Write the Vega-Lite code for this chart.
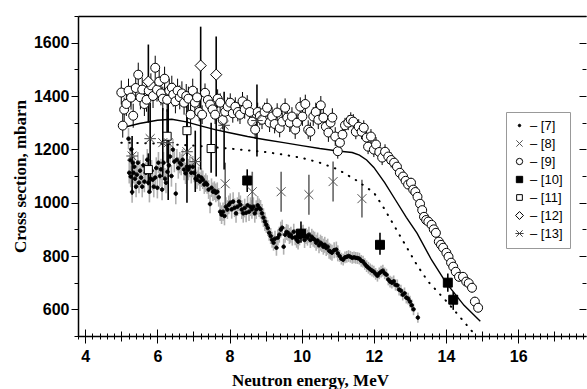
{
"$schema":"https://vega.github.io/schema/vega-lite/v6.json",
"width":508,"height":320,"autosize":"none",
"padding":{"left":78,"top":16,"right":1,"bottom":53},
"background":"white",
"resolve":{"axis":{"x":"independent","y":"independent"}},
"config":{"view":{"stroke":null},
"axis":{"domainColor":"black","domainWidth":1.5,"tickColor":"black","tickWidth":1,"labelFont":"Liberation Sans","labelFontWeight":"bold","labelFontSize":16,"labelColor":"black","titleFont":"Liberation Serif","titleFontWeight":"bold","titleFontSize":17,"titleColor":"black","grid":false,"labelOverlap":false,"labelBound":false,"labelFlush":false},
"legend":{"labelFont":"Liberation Sans","labelFontSize":13,"labelColor":"black","strokeColor":"#999","fillColor":"white","padding":7,"rowPadding":4,"symbolStrokeWidth":1,"labelOffset":4,"symbolSize":40}},
"datasets":{
"th":[
{"c":"solid","e":5.0,"v":1280},{"c":"solid","e":5.5,"v":1297},{"c":"solid","e":6.0,"v":1309},{"c":"solid","e":6.4,"v":1313},{"c":"solid","e":6.8,"v":1303},{"c":"solid","e":7.2,"v":1288},{"c":"solid","e":7.6,"v":1274},{"c":"solid","e":8.0,"v":1262},{"c":"solid","e":8.5,"v":1248},{"c":"solid","e":9.0,"v":1236},{"c":"solid","e":9.5,"v":1225},{"c":"solid","e":10.0,"v":1214},{"c":"solid","e":10.5,"v":1203},{"c":"solid","e":11.0,"v":1194},{"c":"solid","e":11.4,"v":1188},{"c":"solid","e":11.6,"v":1178},{"c":"solid","e":11.8,"v":1160},{"c":"solid","e":12.0,"v":1132},{"c":"solid","e":12.3,"v":1075},{"c":"solid","e":12.6,"v":1010},{"c":"solid","e":12.9,"v":945},{"c":"solid","e":13.2,"v":885},{"c":"solid","e":13.6,"v":785},{"c":"solid","e":14.0,"v":700},{"c":"solid","e":14.5,"v":615},{"c":"solid","e":14.95,"v":555},
{"c":"dot","e":5.0,"v":1225},{"c":"dot","e":6.0,"v":1222},{"c":"dot","e":7.0,"v":1214},{"c":"dot","e":8.0,"v":1203},{"c":"dot","e":9.0,"v":1190},{"c":"dot","e":9.5,"v":1180},{"c":"dot","e":10.0,"v":1168},{"c":"dot","e":10.5,"v":1150},{"c":"dot","e":11.0,"v":1125},{"c":"dot","e":11.5,"v":1085},{"c":"dot","e":12.0,"v":1038},{"c":"dot","e":12.3,"v":975},{"c":"dot","e":12.6,"v":905},{"c":"dot","e":12.9,"v":835},{"c":"dot","e":13.2,"v":765},{"c":"dot","e":13.5,"v":705},{"c":"dot","e":14.0,"v":632},{"c":"dot","e":14.3,"v":585},{"c":"dot","e":14.6,"v":537},{"c":"dot","e":14.8,"v":505}
],
"pts":[
{"s":"[7]","e":5.20,"v":1240,"lo":1200,"hi":1280},{"s":"[7]","e":5.22,"v":1112,"lo":1072,"hi":1152},{"s":"[7]","e":5.24,"v":1160,"lo":1120,"hi":1200},{"s":"[7]","e":5.26,"v":1098,"lo":1058,"hi":1138},{"s":"[7]","e":5.28,"v":1200,"lo":1160,"hi":1240},{"s":"[7]","e":5.30,"v":1040,"lo":1000,"hi":1080},{"s":"[7]","e":5.32,"v":1150,"lo":1110,"hi":1190},{"s":"[7]","e":5.34,"v":1112,"lo":1072,"hi":1152},{"s":"[7]","e":5.36,"v":1135,"lo":1095,"hi":1175},{"s":"[7]","e":5.38,"v":1090,"lo":1050,"hi":1130},{"s":"[7]","e":5.41,"v":1060,"lo":1020,"hi":1100},{"s":"[7]","e":5.43,"v":1105,"lo":1065,"hi":1145},{"s":"[7]","e":5.46,"v":1150,"lo":1110,"hi":1190},{"s":"[7]","e":5.49,"v":1075,"lo":1035,"hi":1115},{"s":"[7]","e":5.52,"v":1120,"lo":1080,"hi":1160},{"s":"[7]","e":5.55,"v":1094,"lo":1054,"hi":1134},{"s":"[7]","e":5.58,"v":1060,"lo":1020,"hi":1100},{"s":"[7]","e":5.61,"v":1140,"lo":1100,"hi":1180},{"s":"[7]","e":5.64,"v":1079,"lo":1039,"hi":1119},{"s":"[7]","e":5.68,"v":1112,"lo":1072,"hi":1152},{"s":"[7]","e":5.72,"v":1161,"lo":1121,"hi":1201},{"s":"[7]","e":5.75,"v":1075,"lo":1035,"hi":1115},{"s":"[7]","e":5.78,"v":1041,"lo":1001,"hi":1081},{"s":"[7]","e":5.81,"v":1090,"lo":1050,"hi":1130},{"s":"[7]","e":5.84,"v":1120,"lo":1080,"hi":1160},{"s":"[7]","e":5.87,"v":1086,"lo":1046,"hi":1126},{"s":"[7]","e":5.90,"v":1060,"lo":1020,"hi":1100},{"s":"[7]","e":5.94,"v":1094,"lo":1054,"hi":1134},{"s":"[7]","e":5.97,"v":1130,"lo":1090,"hi":1170},{"s":"[7]","e":6.00,"v":1056,"lo":1016,"hi":1096},
{"s":"[7]","e":6.03,"v":1150,"lo":1110,"hi":1190},{"s":"[7]","e":6.07,"v":1100,"lo":1060,"hi":1140},{"s":"[7]","e":6.10,"v":1125,"lo":1085,"hi":1165},{"s":"[7]","e":6.13,"v":1049,"lo":1009,"hi":1089},{"s":"[7]","e":6.17,"v":1150,"lo":1110,"hi":1190},{"s":"[7]","e":6.21,"v":1090,"lo":1050,"hi":1130},{"s":"[7]","e":6.24,"v":1075,"lo":1035,"hi":1115},{"s":"[7]","e":6.28,"v":1116,"lo":1076,"hi":1156},{"s":"[7]","e":6.32,"v":1140,"lo":1100,"hi":1180},{"s":"[7]","e":6.35,"v":1173,"lo":1133,"hi":1213},{"s":"[7]","e":6.39,"v":1100,"lo":1060,"hi":1140},{"s":"[7]","e":6.43,"v":1199,"lo":1159,"hi":1239},{"s":"[7]","e":6.47,"v":1154,"lo":1114,"hi":1194},{"s":"[7]","e":6.51,"v":1034,"lo":994,"hi":1074},{"s":"[7]","e":6.54,"v":1161,"lo":1121,"hi":1201},{"s":"[7]","e":6.58,"v":1130,"lo":1090,"hi":1170},{"s":"[7]","e":6.62,"v":1150,"lo":1110,"hi":1190},{"s":"[7]","e":6.66,"v":1143,"lo":1103,"hi":1183},{"s":"[7]","e":6.70,"v":1161,"lo":1121,"hi":1201},{"s":"[7]","e":6.74,"v":1124,"lo":1084,"hi":1164},{"s":"[7]","e":6.78,"v":1110,"lo":1070,"hi":1150},{"s":"[7]","e":6.82,"v":1135,"lo":1095,"hi":1175},{"s":"[7]","e":6.86,"v":1124,"lo":1084,"hi":1164},{"s":"[7]","e":6.90,"v":1135,"lo":1095,"hi":1175},{"s":"[7]","e":6.94,"v":1112,"lo":1072,"hi":1152},{"s":"[7]","e":6.98,"v":1135,"lo":1095,"hi":1175},
{"s":"[7]","e":7.02,"v":1112,"lo":1077,"hi":1147},{"s":"[7]","e":7.06,"v":1090,"lo":1055,"hi":1125},{"s":"[7]","e":7.10,"v":1086,"lo":1051,"hi":1121},{"s":"[7]","e":7.14,"v":1100,"lo":1065,"hi":1135},{"s":"[7]","e":7.18,"v":1079,"lo":1044,"hi":1114},{"s":"[7]","e":7.22,"v":1094,"lo":1059,"hi":1129},{"s":"[7]","e":7.26,"v":1086,"lo":1051,"hi":1121},{"s":"[7]","e":7.30,"v":1068,"lo":1033,"hi":1103},{"s":"[7]","e":7.34,"v":1075,"lo":1040,"hi":1110},{"s":"[7]","e":7.38,"v":1068,"lo":1033,"hi":1103},{"s":"[7]","e":7.42,"v":1049,"lo":1014,"hi":1084},{"s":"[7]","e":7.46,"v":995,"lo":960,"hi":1030},{"s":"[7]","e":7.50,"v":1056,"lo":1021,"hi":1091},{"s":"[7]","e":7.54,"v":1041,"lo":1006,"hi":1076},{"s":"[7]","e":7.58,"v":1045,"lo":1010,"hi":1080},{"s":"[7]","e":7.62,"v":1037,"lo":1002,"hi":1072},{"s":"[7]","e":7.66,"v":1041,"lo":1006,"hi":1076},{"s":"[7]","e":7.70,"v":1020,"lo":985,"hi":1055},{"s":"[7]","e":7.74,"v":966,"lo":931,"hi":1001},{"s":"[7]","e":7.78,"v":955,"lo":920,"hi":990},{"s":"[7]","e":7.82,"v":966,"lo":931,"hi":1001},{"s":"[7]","e":7.86,"v":950,"lo":915,"hi":985},{"s":"[7]","e":7.90,"v":985,"lo":950,"hi":1020},{"s":"[7]","e":7.94,"v":974,"lo":939,"hi":1009},{"s":"[7]","e":7.98,"v":992,"lo":957,"hi":1027},{"s":"[7]","e":8.02,"v":1000,"lo":965,"hi":1035},{"s":"[7]","e":8.06,"v":975,"lo":940,"hi":1010},{"s":"[7]","e":8.10,"v":1004,"lo":969,"hi":1039},{"s":"[7]","e":8.14,"v":981,"lo":946,"hi":1016},{"s":"[7]","e":8.18,"v":960,"lo":925,"hi":995},{"s":"[7]","e":8.22,"v":985,"lo":950,"hi":1020},{"s":"[7]","e":8.26,"v":1004,"lo":969,"hi":1039},{"s":"[7]","e":8.30,"v":992,"lo":957,"hi":1027},{"s":"[7]","e":8.34,"v":974,"lo":939,"hi":1009},{"s":"[7]","e":8.38,"v":960,"lo":925,"hi":995},{"s":"[7]","e":8.42,"v":980,"lo":945,"hi":1015},{"s":"[7]","e":8.46,"v":962,"lo":927,"hi":997},{"s":"[7]","e":8.50,"v":990,"lo":955,"hi":1025},{"s":"[7]","e":8.54,"v":966,"lo":931,"hi":1001},{"s":"[7]","e":8.58,"v":985,"lo":950,"hi":1020},{"s":"[7]","e":8.62,"v":975,"lo":940,"hi":1010},{"s":"[7]","e":8.66,"v":985,"lo":950,"hi":1020},{"s":"[7]","e":8.70,"v":960,"lo":925,"hi":995},{"s":"[7]","e":8.74,"v":974,"lo":939,"hi":1009},{"s":"[7]","e":8.78,"v":990,"lo":955,"hi":1025},{"s":"[7]","e":8.82,"v":981,"lo":946,"hi":1016},{"s":"[7]","e":8.86,"v":975,"lo":940,"hi":1010},{"s":"[7]","e":8.90,"v":960,"lo":925,"hi":995},{"s":"[7]","e":8.94,"v":944,"lo":909,"hi":979},{"s":"[7]","e":8.98,"v":929,"lo":894,"hi":964},
{"s":"[7]","e":9.02,"v":917,"lo":887,"hi":947},{"s":"[7]","e":9.06,"v":905,"lo":875,"hi":935},{"s":"[7]","e":9.10,"v":887,"lo":857,"hi":917},{"s":"[7]","e":9.14,"v":875,"lo":845,"hi":905},{"s":"[7]","e":9.18,"v":861,"lo":831,"hi":891},{"s":"[7]","e":9.22,"v":850,"lo":820,"hi":880},{"s":"[7]","e":9.26,"v":865,"lo":835,"hi":895},{"s":"[7]","e":9.30,"v":831,"lo":801,"hi":861},{"s":"[7]","e":9.34,"v":869,"lo":839,"hi":899},{"s":"[7]","e":9.38,"v":880,"lo":850,"hi":910},{"s":"[7]","e":9.42,"v":899,"lo":869,"hi":929},{"s":"[7]","e":9.46,"v":906,"lo":876,"hi":936},{"s":"[7]","e":9.50,"v":835,"lo":805,"hi":865},{"s":"[7]","e":9.54,"v":880,"lo":850,"hi":910},{"s":"[7]","e":9.58,"v":890,"lo":860,"hi":920},{"s":"[7]","e":9.62,"v":887,"lo":857,"hi":917},{"s":"[7]","e":9.66,"v":875,"lo":845,"hi":905},{"s":"[7]","e":9.70,"v":880,"lo":850,"hi":910},{"s":"[7]","e":9.74,"v":869,"lo":839,"hi":899},{"s":"[7]","e":9.78,"v":891,"lo":861,"hi":921},{"s":"[7]","e":9.82,"v":870,"lo":840,"hi":900},{"s":"[7]","e":9.86,"v":861,"lo":831,"hi":891},{"s":"[7]","e":9.90,"v":854,"lo":824,"hi":884},{"s":"[7]","e":9.94,"v":870,"lo":840,"hi":900},{"s":"[7]","e":10.00,"v":884,"lo":854,"hi":914},{"s":"[7]","e":10.04,"v":887,"lo":857,"hi":917},{"s":"[7]","e":10.08,"v":860,"lo":830,"hi":890},{"s":"[7]","e":10.12,"v":875,"lo":845,"hi":905},{"s":"[7]","e":10.16,"v":869,"lo":839,"hi":899},{"s":"[7]","e":10.20,"v":880,"lo":850,"hi":910},{"s":"[7]","e":10.24,"v":860,"lo":830,"hi":890},{"s":"[7]","e":10.28,"v":872,"lo":842,"hi":902},{"s":"[7]","e":10.32,"v":865,"lo":835,"hi":895},{"s":"[7]","e":10.36,"v":861,"lo":831,"hi":891},{"s":"[7]","e":10.40,"v":850,"lo":820,"hi":880},{"s":"[7]","e":10.44,"v":858,"lo":828,"hi":888},{"s":"[7]","e":10.48,"v":840,"lo":810,"hi":870},{"s":"[7]","e":10.52,"v":850,"lo":820,"hi":880},{"s":"[7]","e":10.56,"v":845,"lo":815,"hi":875},{"s":"[7]","e":10.60,"v":835,"lo":805,"hi":865},{"s":"[7]","e":10.64,"v":842,"lo":812,"hi":872},{"s":"[7]","e":10.68,"v":830,"lo":800,"hi":860},{"s":"[7]","e":10.72,"v":835,"lo":805,"hi":865},{"s":"[7]","e":10.76,"v":820,"lo":790,"hi":850},{"s":"[7]","e":10.80,"v":816,"lo":786,"hi":846},{"s":"[7]","e":10.84,"v":812,"lo":782,"hi":842},{"s":"[7]","e":10.90,"v":822,"lo":792,"hi":852},{"s":"[7]","e":10.96,"v":824,"lo":794,"hi":854},{"s":"[7]","e":11.00,"v":810,"lo":780,"hi":840},
{"s":"[7]","e":11.05,"v":800,"lo":778,"hi":822},{"s":"[7]","e":11.10,"v":790,"lo":768,"hi":812},{"s":"[7]","e":11.15,"v":786,"lo":764,"hi":808},{"s":"[7]","e":11.20,"v":795,"lo":773,"hi":817},{"s":"[7]","e":11.25,"v":797,"lo":775,"hi":819},{"s":"[7]","e":11.30,"v":800,"lo":778,"hi":822},{"s":"[7]","e":11.35,"v":797,"lo":775,"hi":819},{"s":"[7]","e":11.40,"v":793,"lo":771,"hi":815},{"s":"[7]","e":11.45,"v":795,"lo":773,"hi":817},{"s":"[7]","e":11.50,"v":793,"lo":771,"hi":815},{"s":"[7]","e":11.55,"v":792,"lo":770,"hi":814},{"s":"[7]","e":11.60,"v":790,"lo":768,"hi":812},{"s":"[7]","e":11.65,"v":782,"lo":760,"hi":804},{"s":"[7]","e":11.70,"v":779,"lo":757,"hi":801},{"s":"[7]","e":11.75,"v":770,"lo":748,"hi":792},{"s":"[7]","e":11.80,"v":762,"lo":740,"hi":784},{"s":"[7]","e":11.85,"v":756,"lo":734,"hi":778},{"s":"[7]","e":11.90,"v":750,"lo":728,"hi":772},{"s":"[7]","e":11.95,"v":745,"lo":723,"hi":767},{"s":"[7]","e":12.00,"v":741,"lo":719,"hi":763},{"s":"[7]","e":12.05,"v":733,"lo":711,"hi":755},{"s":"[7]","e":12.10,"v":726,"lo":704,"hi":748},{"s":"[7]","e":12.15,"v":735,"lo":713,"hi":757},{"s":"[7]","e":12.20,"v":741,"lo":719,"hi":763},{"s":"[7]","e":12.25,"v":745,"lo":723,"hi":767},{"s":"[7]","e":12.30,"v":735,"lo":713,"hi":757},{"s":"[7]","e":12.35,"v":730,"lo":708,"hi":752},{"s":"[7]","e":12.40,"v":712,"lo":690,"hi":734},{"s":"[7]","e":12.45,"v":704,"lo":682,"hi":726},{"s":"[7]","e":12.50,"v":700,"lo":678,"hi":722},{"s":"[7]","e":12.55,"v":705,"lo":683,"hi":727},{"s":"[7]","e":12.60,"v":692,"lo":670,"hi":714},{"s":"[7]","e":12.65,"v":690,"lo":668,"hi":712},{"s":"[7]","e":12.70,"v":674,"lo":652,"hi":696},{"s":"[7]","e":12.75,"v":670,"lo":648,"hi":692},{"s":"[7]","e":12.80,"v":655,"lo":633,"hi":677},{"s":"[7]","e":12.85,"v":660,"lo":638,"hi":682},{"s":"[7]","e":12.90,"v":644,"lo":622,"hi":666},{"s":"[7]","e":12.95,"v":640,"lo":618,"hi":662},{"s":"[7]","e":13.00,"v":629,"lo":607,"hi":651},{"s":"[7]","e":13.05,"v":615,"lo":593,"hi":637},{"s":"[7]","e":13.10,"v":600,"lo":578,"hi":622},{"s":"[7]","e":13.22,"v":569,"lo":550,"hi":588},
{"s":"[9]","e":5.00,"v":1413,"lo":1368,"hi":1458},{"s":"[9]","e":5.04,"v":1289,"lo":1244,"hi":1334},{"s":"[9]","e":5.08,"v":1349,"lo":1304,"hi":1394},{"s":"[9]","e":5.14,"v":1370,"lo":1325,"hi":1415},{"s":"[9]","e":5.20,"v":1420,"lo":1375,"hi":1465},{"s":"[9]","e":5.27,"v":1394,"lo":1349,"hi":1439},{"s":"[9]","e":5.33,"v":1326,"lo":1281,"hi":1371},{"s":"[9]","e":5.40,"v":1430,"lo":1385,"hi":1475},{"s":"[9]","e":5.47,"v":1480,"lo":1435,"hi":1525},{"s":"[9]","e":5.53,"v":1395,"lo":1350,"hi":1440},{"s":"[9]","e":5.58,"v":1424,"lo":1379,"hi":1469},{"s":"[9]","e":5.64,"v":1370,"lo":1325,"hi":1415},{"s":"[9]","e":5.70,"v":1386,"lo":1341,"hi":1431},{"s":"[9]","e":5.76,"v":1420,"lo":1375,"hi":1465},{"s":"[9]","e":5.82,"v":1440,"lo":1395,"hi":1485},{"s":"[9]","e":5.88,"v":1400,"lo":1355,"hi":1445},{"s":"[9]","e":5.94,"v":1506,"lo":1461,"hi":1551},{"s":"[9]","e":5.99,"v":1424,"lo":1379,"hi":1469},{"s":"[9]","e":6.05,"v":1454,"lo":1409,"hi":1499},{"s":"[9]","e":6.10,"v":1410,"lo":1365,"hi":1455},{"s":"[9]","e":6.15,"v":1390,"lo":1345,"hi":1435},{"s":"[9]","e":6.20,"v":1465,"lo":1420,"hi":1510},{"s":"[9]","e":6.27,"v":1386,"lo":1341,"hi":1431},{"s":"[9]","e":6.33,"v":1420,"lo":1375,"hi":1465},{"s":"[9]","e":6.40,"v":1431,"lo":1386,"hi":1476},{"s":"[9]","e":6.44,"v":1405,"lo":1360,"hi":1450},{"s":"[9]","e":6.50,"v":1380,"lo":1335,"hi":1425},{"s":"[9]","e":6.56,"v":1420,"lo":1375,"hi":1465},{"s":"[9]","e":6.62,"v":1395,"lo":1350,"hi":1440},{"s":"[9]","e":6.68,"v":1410,"lo":1365,"hi":1455},{"s":"[9]","e":6.74,"v":1375,"lo":1330,"hi":1420},{"s":"[9]","e":6.80,"v":1400,"lo":1355,"hi":1445},{"s":"[9]","e":6.86,"v":1390,"lo":1345,"hi":1435},{"s":"[9]","e":6.92,"v":1330,"lo":1285,"hi":1375},{"s":"[9]","e":6.98,"v":1420,"lo":1375,"hi":1465},
{"s":"[9]","e":7.04,"v":1375,"lo":1340,"hi":1410},{"s":"[9]","e":7.10,"v":1395,"lo":1360,"hi":1430},{"s":"[9]","e":7.16,"v":1340,"lo":1305,"hi":1375},{"s":"[9]","e":7.24,"v":1330,"lo":1295,"hi":1365},{"s":"[9]","e":7.32,"v":1412,"lo":1377,"hi":1447},{"s":"[9]","e":7.40,"v":1385,"lo":1350,"hi":1420},{"s":"[9]","e":7.46,"v":1368,"lo":1333,"hi":1403},{"s":"[9]","e":7.53,"v":1350,"lo":1315,"hi":1385},{"s":"[9]","e":7.60,"v":1330,"lo":1295,"hi":1365},{"s":"[9]","e":7.67,"v":1390,"lo":1355,"hi":1425},{"s":"[9]","e":7.74,"v":1375,"lo":1340,"hi":1410},{"s":"[9]","e":7.81,"v":1310,"lo":1275,"hi":1345},{"s":"[9]","e":7.88,"v":1341,"lo":1306,"hi":1376},{"s":"[9]","e":7.95,"v":1360,"lo":1325,"hi":1395},{"s":"[9]","e":8.02,"v":1375,"lo":1340,"hi":1410},{"s":"[9]","e":8.09,"v":1335,"lo":1300,"hi":1370},{"s":"[9]","e":8.16,"v":1360,"lo":1325,"hi":1395},{"s":"[9]","e":8.23,"v":1340,"lo":1305,"hi":1375},{"s":"[9]","e":8.29,"v":1330,"lo":1295,"hi":1365},{"s":"[9]","e":8.36,"v":1380,"lo":1345,"hi":1415},{"s":"[9]","e":8.42,"v":1350,"lo":1315,"hi":1385},{"s":"[9]","e":8.49,"v":1368,"lo":1333,"hi":1403},{"s":"[9]","e":8.56,"v":1340,"lo":1305,"hi":1375},{"s":"[9]","e":8.63,"v":1304,"lo":1269,"hi":1339},{"s":"[9]","e":8.71,"v":1274,"lo":1239,"hi":1309},{"s":"[9]","e":8.78,"v":1340,"lo":1305,"hi":1375},{"s":"[9]","e":8.84,"v":1325,"lo":1290,"hi":1360},{"s":"[9]","e":8.90,"v":1311,"lo":1276,"hi":1346},{"s":"[9]","e":8.97,"v":1340,"lo":1305,"hi":1375},{"s":"[9]","e":9.04,"v":1356,"lo":1321,"hi":1391},{"s":"[9]","e":9.11,"v":1300,"lo":1265,"hi":1335},{"s":"[9]","e":9.18,"v":1323,"lo":1288,"hi":1358},{"s":"[9]","e":9.25,"v":1295,"lo":1260,"hi":1330},{"s":"[9]","e":9.32,"v":1338,"lo":1303,"hi":1373},{"s":"[9]","e":9.39,"v":1280,"lo":1245,"hi":1315},{"s":"[9]","e":9.46,"v":1304,"lo":1269,"hi":1339},{"s":"[9]","e":9.54,"v":1356,"lo":1321,"hi":1391},{"s":"[9]","e":9.60,"v":1319,"lo":1284,"hi":1354},{"s":"[9]","e":9.67,"v":1300,"lo":1265,"hi":1335},{"s":"[9]","e":9.73,"v":1323,"lo":1288,"hi":1358},{"s":"[9]","e":9.82,"v":1274,"lo":1239,"hi":1309},{"s":"[9]","e":9.87,"v":1300,"lo":1265,"hi":1335},{"s":"[9]","e":9.96,"v":1360,"lo":1325,"hi":1395},{"s":"[9]","e":10.02,"v":1323,"lo":1288,"hi":1358},{"s":"[9]","e":10.10,"v":1370,"lo":1335,"hi":1405},{"s":"[9]","e":10.18,"v":1274,"lo":1239,"hi":1309},{"s":"[9]","e":10.24,"v":1266,"lo":1231,"hi":1301},{"s":"[9]","e":10.32,"v":1323,"lo":1288,"hi":1358},{"s":"[9]","e":10.39,"v":1340,"lo":1305,"hi":1375},{"s":"[9]","e":10.46,"v":1311,"lo":1276,"hi":1346},{"s":"[9]","e":10.53,"v":1365,"lo":1330,"hi":1400},{"s":"[9]","e":10.60,"v":1319,"lo":1284,"hi":1354},{"s":"[9]","e":10.67,"v":1285,"lo":1250,"hi":1320},{"s":"[9]","e":10.74,"v":1263,"lo":1228,"hi":1298},{"s":"[9]","e":10.80,"v":1300,"lo":1265,"hi":1335},{"s":"[9]","e":10.85,"v":1319,"lo":1284,"hi":1354},{"s":"[9]","e":10.93,"v":1248,"lo":1213,"hi":1283},
{"s":"[9]","e":11.00,"v":1193,"lo":1165,"hi":1221},{"s":"[9]","e":11.06,"v":1225,"lo":1197,"hi":1253},{"s":"[9]","e":11.13,"v":1255,"lo":1227,"hi":1283},{"s":"[9]","e":11.20,"v":1290,"lo":1262,"hi":1318},{"s":"[9]","e":11.29,"v":1300,"lo":1272,"hi":1328},{"s":"[9]","e":11.36,"v":1311,"lo":1283,"hi":1339},{"s":"[9]","e":11.43,"v":1304,"lo":1276,"hi":1332},{"s":"[9]","e":11.50,"v":1266,"lo":1238,"hi":1294},{"s":"[9]","e":11.58,"v":1285,"lo":1257,"hi":1313},{"s":"[9]","e":11.66,"v":1266,"lo":1238,"hi":1294},{"s":"[9]","e":11.72,"v":1281,"lo":1253,"hi":1309},{"s":"[9]","e":11.80,"v":1244,"lo":1216,"hi":1272},{"s":"[9]","e":11.84,"v":1210,"lo":1182,"hi":1238},{"s":"[9]","e":11.92,"v":1248,"lo":1220,"hi":1276},{"s":"[9]","e":12.00,"v":1199,"lo":1171,"hi":1227},{"s":"[9]","e":12.06,"v":1218,"lo":1190,"hi":1246},{"s":"[9]","e":12.15,"v":1190,"lo":1162,"hi":1218},{"s":"[9]","e":12.23,"v":1169,"lo":1141,"hi":1197},{"s":"[9]","e":12.31,"v":1191,"lo":1163,"hi":1219},{"s":"[9]","e":12.40,"v":1173,"lo":1145,"hi":1201},{"s":"[9]","e":12.48,"v":1160,"lo":1132,"hi":1188},{"s":"[9]","e":12.56,"v":1150,"lo":1132,"hi":1168},{"s":"[9]","e":12.64,"v":1135,"lo":1117,"hi":1153},{"s":"[9]","e":12.72,"v":1112,"lo":1094,"hi":1130},{"s":"[9]","e":12.81,"v":1098,"lo":1080,"hi":1116},{"s":"[9]","e":12.88,"v":1082,"lo":1064,"hi":1100},{"s":"[9]","e":12.95,"v":1068,"lo":1050,"hi":1086},{"s":"[9]","e":13.03,"v":1075,"lo":1057,"hi":1093},{"s":"[9]","e":13.09,"v":1049,"lo":1031,"hi":1067},{"s":"[9]","e":13.15,"v":1040,"lo":1022,"hi":1058},{"s":"[9]","e":13.21,"v":1022,"lo":1004,"hi":1040},{"s":"[9]","e":13.28,"v":996,"lo":978,"hi":1014},{"s":"[9]","e":13.34,"v":972,"lo":954,"hi":990},{"s":"[9]","e":13.39,"v":947,"lo":929,"hi":965},{"s":"[9]","e":13.45,"v":935,"lo":917,"hi":953},{"s":"[9]","e":13.51,"v":929,"lo":911,"hi":947},{"s":"[9]","e":13.60,"v":917,"lo":899,"hi":935},{"s":"[9]","e":13.66,"v":900,"lo":882,"hi":918},{"s":"[9]","e":13.72,"v":887,"lo":869,"hi":905},{"s":"[9]","e":13.80,"v":854,"lo":836,"hi":872},{"s":"[9]","e":13.86,"v":842,"lo":824,"hi":860},{"s":"[9]","e":13.92,"v":831,"lo":813,"hi":849},{"s":"[9]","e":14.01,"v":812,"lo":794,"hi":830},{"s":"[9]","e":14.07,"v":797,"lo":779,"hi":815},{"s":"[9]","e":14.14,"v":775,"lo":757,"hi":793},{"s":"[9]","e":14.20,"v":760,"lo":742,"hi":778},{"s":"[9]","e":14.27,"v":741,"lo":723,"hi":759},{"s":"[9]","e":14.36,"v":722,"lo":704,"hi":740},{"s":"[9]","e":14.47,"v":722,"lo":704,"hi":740},{"s":"[9]","e":14.56,"v":704,"lo":686,"hi":722},{"s":"[9]","e":14.63,"v":698,"lo":680,"hi":716},{"s":"[9]","e":14.72,"v":681,"lo":663,"hi":699},{"s":"[9]","e":14.80,"v":629,"lo":611,"hi":647},{"s":"[9]","e":14.89,"v":606,"lo":588,"hi":624},
{"s":"[8]","e":7.88,"v":1071,"lo":992,"hi":1150},{"s":"[8]","e":8.63,"v":1041,"lo":992,"hi":1116},{"s":"[8]","e":9.43,"v":1041,"lo":966,"hi":1116},{"s":"[8]","e":10.2,"v":1030,"lo":955,"hi":1105},{"s":"[8]","e":10.87,"v":1079,"lo":1004,"hi":1154},{"s":"[8]","e":11.67,"v":1015,"lo":944,"hi":1086},
{"s":"[10]","e":8.49,"v":1083,"lo":1040,"hi":1125},{"s":"[10]","e":9.98,"v":884,"lo":850,"hi":929},{"s":"[10]","e":12.17,"v":842,"lo":805,"hi":887},{"s":"[10]","e":14.05,"v":700,"lo":666,"hi":734},{"s":"[10]","e":14.2,"v":636,"lo":598,"hi":665},
{"s":"[11]","e":5.75,"v":1124,"lo":1065,"hi":1185},{"s":"[11]","e":6.27,"v":1249,"lo":1150,"hi":1350},{"s":"[11]","e":6.82,"v":1270,"lo":1175,"hi":1365},{"s":"[11]","e":7.49,"v":1203,"lo":1112,"hi":1300},
{"s":"[12]","e":5.75,"v":1454,"lo":1300,"hi":1593},{"s":"[12]","e":7.2,"v":1514,"lo":1124,"hi":1660},{"s":"[12]","e":7.63,"v":1480,"lo":1098,"hi":1623},
{"s":"[13]","e":5.3,"v":1175,"lo":1030,"hi":1250},{"s":"[13]","e":5.8,"v":1240,"lo":1040,"hi":1375},{"s":"[13]","e":6.15,"v":1225,"lo":1095,"hi":1355},{"s":"[13]","e":6.3,"v":1225,"lo":1010,"hi":1386},{"s":"[13]","e":6.82,"v":1191,"lo":1000,"hi":1345},{"s":"[13]","e":7.05,"v":1154,"lo":1040,"hi":1270},{"s":"[13]","e":7.85,"v":1290,"lo":1124,"hi":1416},{"s":"[13]","e":8.76,"v":1308,"lo":1173,"hi":1443}
]},
"layer":[
{"data":{"name":"pts"},"mark":{"type":"rule"},
"encoding":{
"x":{"field":"e","type":"quantitative","scale":{"domain":[3.8,17.88],"nice":false,"zero":false},
"axis":{"orient":"bottom","values":[3.8,4,4.2,4.4,4.6,4.8,5,5.2,5.4,5.6,5.8,6,6.2,6.4,6.6,6.8,7,7.2,7.4,7.6,7.8,8,8.2,8.4,8.6,8.8,9,9.2,9.4,9.6,9.8,10,10.2,10.4,10.6,10.8,11,11.2,11.4,11.6,11.8,12,12.2,12.4,12.6,12.8,13,13.2,13.4,13.6,13.8,14,14.2,14.4,14.6,14.8,15,15.2,15.4,15.6,15.8,16,16.2,16.4,16.6,16.8,17,17.2,17.4,17.6,17.8],
"title":"Neutron energy, MeV","titleX":232,"titleY":49,"titleBaseline":"alphabetic","titleAlign":"center",
"labelExpr":"abs(datum.value-round(datum.value/2)*2)<0.01 ? format(datum.value,'d') : ''","labelPadding":5,"labelBaseline":"top",
"tickSize":{"condition":[{"test":"abs(datum.value-round(datum.value/2)*2)<0.01","value":7},{"test":"abs(datum.value-round(datum.value))<0.01","value":5}],"value":3},
"grid":true,"gridColor":"black","gridWidth":1,
"gridDash":{"condition":[{"test":"abs(datum.value-round(datum.value/2)*2)<0.01","value":[7,313]},{"test":"abs(datum.value-round(datum.value))<0.01","value":[5,315]}],"value":[3,317]},
"gridDashOffset":{"condition":[{"test":"abs(datum.value-round(datum.value/2)*2)<0.01","value":7},{"test":"abs(datum.value-round(datum.value))<0.01","value":5}],"value":3}}},
"y":{"field":"lo","type":"quantitative","scale":{"domain":[500,1700],"nice":false,"zero":false},
"axis":{"orient":"left","values":[500,600,700,800,900,1000,1100,1200,1300,1400,1500,1600,1700],"format":"d",
"title":"Cross section, mbarn","titleX":-53,"titleY":160,"titleAngle":270,"titleBaseline":"alphabetic","titleAlign":"center",
"labelExpr":"datum.value % 200 == 0 ? datum.label : ''","labelPadding":2,
"tickSize":{"condition":{"test":"datum.value % 200 == 0","value":7},"value":4},
"grid":true,"gridColor":"black","gridWidth":1.5,
"gridOpacity":{"condition":{"test":"datum.value == 1700","value":1},"value":0}}},
"y2":{"field":"hi"},
"stroke":{"condition":[{"test":"datum.s=='[7]'","value":"#b0b0b0"},{"test":"datum.s=='[8]'","value":"#666666"}],"value":"black"},
"strokeWidth":{"condition":[{"test":"datum.s=='[9]'","value":1},{"test":"datum.s=='[7]'","value":1.6}],"value":1.6}
}},
{"data":{"name":"th"},"transform":[{"filter":"datum.c=='solid'"}],
"mark":{"type":"line","stroke":"black","strokeWidth":1.4},
"encoding":{
"x":{"field":"e","type":"quantitative","axis":null},
"y":{"field":"v","type":"quantitative","axis":{"orient":"right","values":[500,600,700,800,900,1000,1100,1200,1300,1400,1500,1600,1700],"labels":false,"domain":false,"title":null,
"tickSize":{"condition":{"test":"datum.value % 200 == 0","value":-7},"value":-4}}}
}},
{"data":{"name":"th"},"transform":[{"filter":"datum.c=='dot'"}],
"mark":{"type":"line","stroke":"black","strokeWidth":2,"strokeDash":[0.5,7.5],"strokeCap":"round"},
"encoding":{"x":{"field":"e","type":"quantitative","axis":null},
"y":{"field":"v","type":"quantitative","axis":null}}},
{"data":{"name":"pts"},
"mark":{"type":"point","size":80,"strokeWidth":1,"opacity":1},
"encoding":{
"x":{"field":"e","type":"quantitative","axis":null},
"y":{"field":"v","type":"quantitative","axis":null},
"shape":{"field":"s","type":"nominal","scale":{"domain":["[7]","[8]","[9]","[10]","[11]","[12]","[13]"],"range":["M-0.4,0A0.4,0.4 0 1,0 0.4,0A0.4,0.4 0 1,0 -0.4,0Z","M-1,-1L1,1M-1,1L1,-1","circle","M-1,-1H1V1H-1Z","M-0.9,-0.9H0.9V0.9H-0.9Z","M0,-1.25L1.25,0L0,1.25L-1.25,0Z","M-1,-1L1,1M-1,1L1,-1M-1.3,0L1.3,0"]},
"legend":{"title":null,"orient":"none","legendX":428,"legendY":96,"labelExpr":"'– ' + datum.label"}},
"fill":{"field":"s","type":"nominal","scale":{"domain":["[7]","[8]","[9]","[10]","[11]","[12]","[13]"],"range":["black","transparent","white","black","white","white","transparent"]},"legend":{"title":null}},
"stroke":{"field":"s","type":"nominal","scale":{"domain":["[7]","[8]","[9]","[10]","[11]","[12]","[13]"],"range":["black","#555555","black","black","black","black","#444444"]},"legend":{"title":null}}
}}
]
}
